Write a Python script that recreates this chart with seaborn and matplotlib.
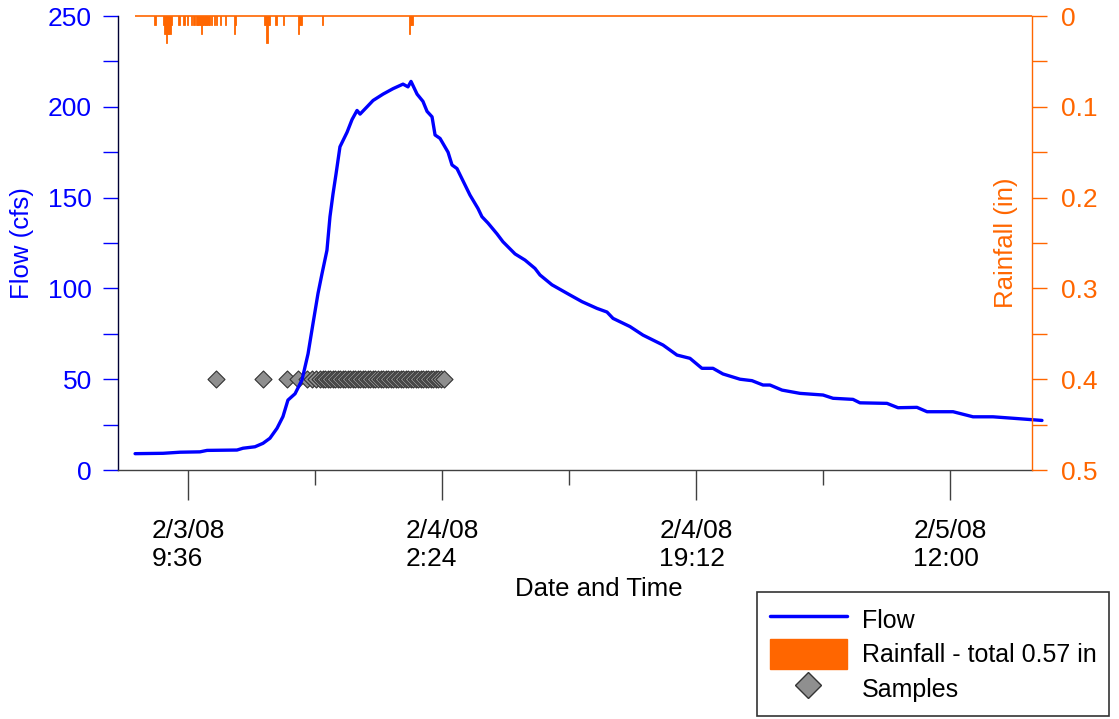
import matplotlib

matplotlib.use("Agg")
import matplotlib.pyplot as plt
import numpy as np
import pandas as pd
import seaborn as sns
from matplotlib.lines import Line2D
from matplotlib.patches import Patch
from matplotlib.ticker import FuncFormatter, MultipleLocator

START = pd.Timestamp("2008-02-03 00:00")

# flow record: hours after 2/3/08 00:00 and flow in cfs
flow_hours = [6.10, 7.95, 9.07, 10.39, 10.86, 12.84, 13.24, 14.03, 14.56, 15.02,
              15.49, 15.88, 16.21, 16.68, 17.14, 17.54, 17.87, 18.20, 18.46, 18.79,
              18.99, 19.19, 19.39, 19.65, 20.12, 20.45, 20.78, 20.98, 21.44, 21.84,
              22.50, 23.16, 23.82, 24.15, 24.35, 24.75, 25.14, 25.41, 25.74, 25.94,
              26.27, 26.80, 27.06, 27.39, 28.25, 28.78, 29.04, 29.44, 30.04, 30.43,
              31.23, 31.89, 32.55, 32.88, 33.67, 34.86, 35.66, 36.65, 37.31, 37.71,
              38.83, 39.69, 41.02, 41.94, 42.80, 43.59, 44.32, 44.98, 46.11, 46.90,
              47.63, 48.09, 48.89, 50.08, 51.60, 52.26, 53.58, 54.04, 55.83, 56.56,
              57.81, 58.48, 60.20, 61.52, 62.84, 64.16, 66.08]
flow_cfs = [9.0, 9.2, 9.8, 10.0, 10.8, 11.0, 12.0, 12.8, 14.7, 17.5,
            23.0, 29.4, 38.5, 42.0, 49.6, 64.0, 80.8, 97.3, 108.0, 121.0,
            139.5, 152.0, 163.0, 178.0, 186.0, 193.0, 198.0, 196.0, 200.0, 203.5,
            207.0, 210.0, 212.5, 211.0, 214.0, 207.0, 203.0, 197.5, 194.5, 184.5,
            182.6, 175.0, 168.0, 166.0, 151.4, 144.0, 139.5, 136.0, 130.0, 125.7,
            119.0, 115.6, 111.0, 107.4, 102.0, 96.4, 92.7, 89.0, 87.0, 83.5,
            79.0, 74.3, 68.8, 63.3, 61.5, 56.0, 56.0, 52.9, 50.0, 49.2,
            46.8, 46.8, 44.0, 42.2, 41.3, 39.5, 38.9, 37.0, 36.7, 34.3,
            34.5, 32.1, 32.1, 29.3, 29.3, 28.5, 27.3]

# 5-minute rainfall tips (in)
rain_times = ["2008-02-03 07:25",
              "2008-02-03 08:00", "2008-02-03 08:05", "2008-02-03 08:10", "2008-02-03 08:15",
              "2008-02-03 08:20", "2008-02-03 08:25", "2008-02-03 08:30",
              "2008-02-03 09:00", "2008-02-03 09:20", "2008-02-03 09:35", "2008-02-03 09:50",
              "2008-02-03 10:00", "2008-02-03 10:10", "2008-02-03 10:15", "2008-02-03 10:20",
              "2008-02-03 10:25", "2008-02-03 10:30", "2008-02-03 10:35", "2008-02-03 10:40",
              "2008-02-03 10:45", "2008-02-03 10:50", "2008-02-03 10:55", "2008-02-03 11:00",
              "2008-02-03 11:10", "2008-02-03 11:20", "2008-02-03 11:30",
              "2008-02-03 11:45", "2008-02-03 12:05",
              "2008-02-03 12:40", "2008-02-03 12:45",
              "2008-02-03 14:40", "2008-02-03 14:45", "2008-02-03 14:50", "2008-02-03 14:55",
              "2008-02-03 15:00",
              "2008-02-03 15:25", "2008-02-03 15:55",
              "2008-02-03 16:55", "2008-02-03 17:00", "2008-02-03 17:05",
              "2008-02-03 18:30",
              "2008-02-04 00:15", "2008-02-04 00:20", "2008-02-04 00:25"]
rain_in = [0.01,
           0.01, 0.02, 0.03, 0.02,
           0.02, 0.02, 0.01,
           0.01, 0.01, 0.01, 0.01,
           0.01, 0.01, 0.01, 0.01,
           0.01, 0.02, 0.01, 0.01,
           0.01, 0.01, 0.01, 0.01,
           0.01, 0.01, 0.01,
           0.01, 0.01,
           0.02, 0.01,
           0.01, 0.01, 0.03, 0.01,
           0.01,
           0.01, 0.01,
           0.02, 0.01, 0.01,
           0.01,
           0.02, 0.01, 0.01]

# composite sample times, drawn at a fixed marker level
sample_times = ["2008-02-03 11:26", "2008-02-03 14:32", "2008-02-03 16:08", "2008-02-03 16:53",
                "2008-02-03 17:27", "2008-02-03 17:47", "2008-02-03 18:04", "2008-02-03 18:18",
                "2008-02-03 18:30", "2008-02-03 18:40", "2008-02-03 18:50",
                "2008-02-03 19:00", "2008-02-03 19:10", "2008-02-03 19:20", "2008-02-03 19:30",
                "2008-02-03 19:40", "2008-02-03 19:50", "2008-02-03 20:00", "2008-02-03 20:10",
                "2008-02-03 20:20", "2008-02-03 20:30", "2008-02-03 20:40", "2008-02-03 20:50",
                "2008-02-03 21:00", "2008-02-03 21:10", "2008-02-03 21:20", "2008-02-03 21:30",
                "2008-02-03 21:40", "2008-02-03 21:50", "2008-02-03 22:00", "2008-02-03 22:10",
                "2008-02-03 22:20", "2008-02-03 22:30", "2008-02-03 22:40", "2008-02-03 22:50",
                "2008-02-03 23:00", "2008-02-03 23:10", "2008-02-03 23:20", "2008-02-03 23:30",
                "2008-02-03 23:40", "2008-02-03 23:50", "2008-02-04 00:00", "2008-02-04 00:10",
                "2008-02-04 00:20", "2008-02-04 00:30", "2008-02-04 00:40", "2008-02-04 00:50",
                "2008-02-04 01:00", "2008-02-04 01:10", "2008-02-04 01:20", "2008-02-04 01:30",
                "2008-02-04 01:40", "2008-02-04 01:50", "2008-02-04 02:00", "2008-02-04 02:10",
                "2008-02-04 02:20", "2008-02-04 02:30"]
sample_level = 50

x_major = ["2008-02-03 09:36", "2008-02-04 02:24", "2008-02-04 19:12", "2008-02-05 12:00"]
x_major_labels = ["2/3/08\n9:36", "2/4/08\n2:24", "2/4/08\n19:12", "2/5/08\n12:00"]
x_minor = ["2008-02-03 18:00", "2008-02-04 10:48", "2008-02-05 03:36"]
x_limits = ["2008-02-03 04:58", "2008-02-05 17:25"]

BLUE = "#0000FF"
ORANGE = "#FF6600"
AXIS_GREY = "#404040"
TICK_FS = 19
LABEL_FS = 18.5
LEGEND_FS = 18

sns.set_style("ticks")
plt.rcParams["font.family"] = ["Liberation Sans", "DejaVu Sans"]
plt.rcParams["text.color"] = "black"

fig = plt.figure(figsize=(11.19, 7.19), dpi=100)
ax = fig.add_axes([0.1054, 0.3463, 0.8168, 0.6314])
ax2 = ax.twinx()

flow_df = pd.DataFrame({
    "time": START + pd.to_timedelta(flow_hours, unit="h"),
    "flow": flow_cfs,
})
sns.lineplot(data=flow_df, x="time", y="flow", ax=ax, color=BLUE,
             linewidth=2.4, zorder=3)
ax.lines[0].set_clip_on(False)

sample_t = pd.to_datetime(sample_times)
sns.scatterplot(x=sample_t, y=[sample_level] * len(sample_t), ax=ax, marker="D",
                s=75, color="#8f8f8f", edgecolor="#333333", linewidth=0.8, zorder=2)

# rainfall hangs from the top of the plot
rain_t = pd.to_datetime(rain_times)
ax2.bar(rain_t, rain_in, width=5 / 1440, color=ORANGE, edgecolor=ORANGE, linewidth=0.6)
ax2.hlines(0, flow_df["time"].iloc[0], pd.Timestamp(x_limits[1]), color=ORANGE,
           linewidth=1.2, clip_on=False)

# axes limits and ticks
ax.set_xlim(pd.Timestamp(x_limits[0]), pd.Timestamp(x_limits[1]))
ax.set_ylim(0, 250)
ax.yaxis.set_major_locator(MultipleLocator(50))
ax.yaxis.set_minor_locator(MultipleLocator(25))
ax.set_xticks(pd.to_datetime(x_major))
ax.set_xticklabels(x_major_labels, multialignment="left")
ax.set_xticks(pd.to_datetime(x_minor), minor=True)

ax2.set_ylim(0.5, 0)
ax2.yaxis.set_major_locator(MultipleLocator(0.1))
ax2.yaxis.set_minor_locator(MultipleLocator(0.05))
ax2.yaxis.set_major_formatter(FuncFormatter(lambda v, _: f"{v:g}"))

ax.tick_params(axis="x", which="major", direction="out", length=21.6, width=1,
               color=AXIS_GREY, labelsize=TICK_FS, labelcolor="black", pad=14)
ax.tick_params(axis="x", which="minor", direction="out", length=10.8, width=1,
               color=AXIS_GREY)
ax.tick_params(axis="y", which="both", direction="out", length=10.8, width=1,
               color=BLUE, labelcolor=BLUE, labelsize=TICK_FS, pad=8)
ax2.tick_params(axis="y", which="both", direction="out", length=10.8, width=1,
                color=ORANGE, labelcolor=ORANGE, labelsize=TICK_FS, pad=10)

for side in ("top", "right"):
    ax.spines[side].set_visible(False)
for side in ("top", "left", "bottom"):
    ax2.spines[side].set_visible(False)
ax.spines["left"].set_color("#000033")
ax.spines["bottom"].set_color(AXIS_GREY)
ax2.spines["right"].set_color(ORANGE)
for sp in (ax.spines["left"], ax.spines["bottom"], ax2.spines["right"]):
    sp.set_linewidth(1)

ax.set_xlabel("Date and Time", fontsize=LABEL_FS, color="black")
ax.xaxis.set_label_coords(0.526, -0.236)
ax.set_ylabel("Flow (cfs)", fontsize=LABEL_FS, color=BLUE)
ax.yaxis.set_label_coords(-0.092, 0.5)
ax2.set_ylabel("Rainfall (in)", fontsize=LABEL_FS, color=ORANGE)
ax2.yaxis.set_label_coords(0.958, 0.5)

handles = [
    Line2D([], [], color=BLUE, linewidth=2.5, label="Flow"),
    Patch(facecolor=ORANGE, edgecolor=ORANGE, label="Rainfall - total 0.57 in"),
    Line2D([], [], linestyle="none", marker="D", markersize=13,
           markerfacecolor="#8f8f8f", markeredgecolor="#333333", label="Samples"),
]
leg = fig.legend(handles=handles, loc="upper left", bbox_to_anchor=(0.6765, 0.1766),
                 frameon=True, fancybox=False, edgecolor="#333333", framealpha=1,
                 fontsize=LEGEND_FS, handlelength=3.1, handleheight=1.45, labelspacing=0.2,
                 handletextpad=0.6, borderpad=0.5, borderaxespad=0, labelcolor="black")
leg.get_frame().set_linewidth(1.2)

fig.savefig("out.png", dpi=100)
